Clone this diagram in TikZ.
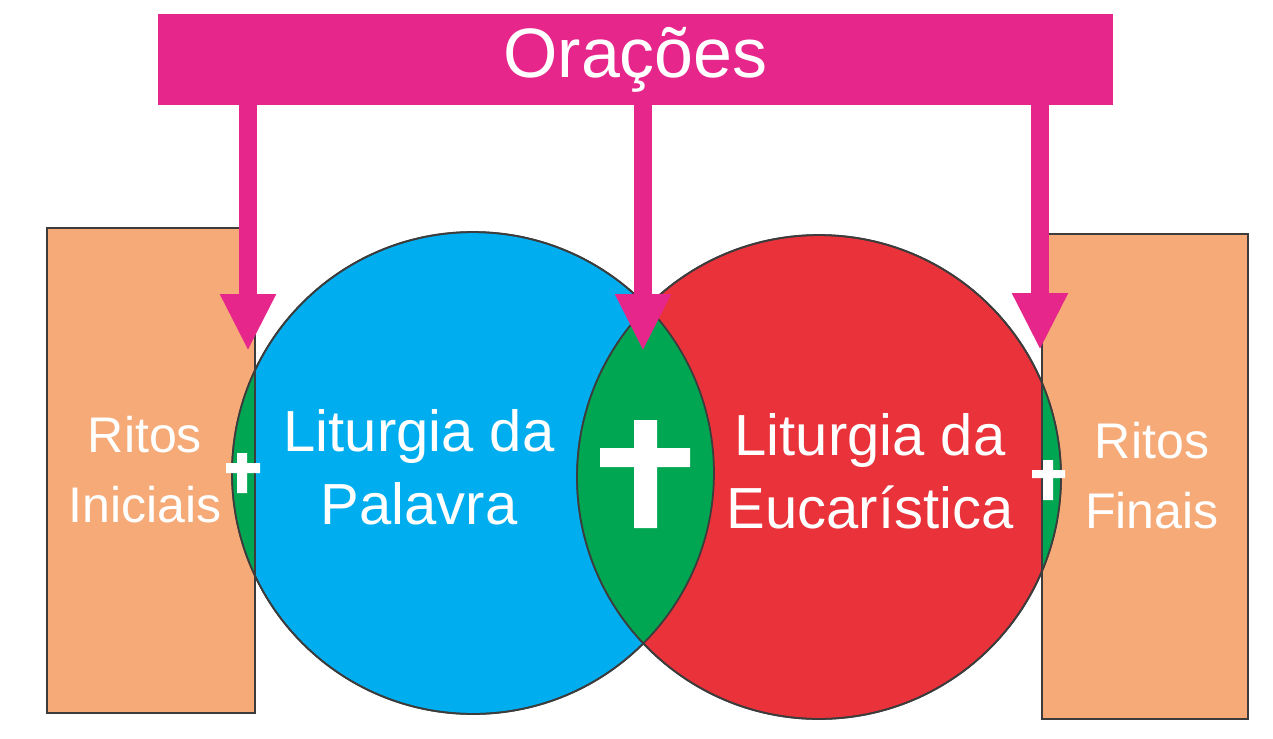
\documentclass[tikz,border=0pt]{standalone}
\usepackage{fontspec}
\setmainfont{Liberation Sans}
\usetikzlibrary{arrows.meta}
\definecolor{oramagenta}{RGB}{231,38,140}
\definecolor{palblue}{RGB}{0,174,239}
\definecolor{eucred}{RGB}{233,50,58}
\definecolor{lensgreen}{RGB}{0,166,81}
\definecolor{ritosorange}{RGB}{245,170,120}
\definecolor{contornogray}{RGB}{60,60,60}
\tikzset{
  missapic/.style={
    x=0.02cm,y=-0.02cm
    ,inner sep=0pt
    ,outer sep=0pt
  }
  ,contorno/.style={draw=contornogray,line width=1pt}
  ,ritos/.style={rectangle,contorno,fill=ritosorange
    ,minimum width=4.16cm,minimum height=9.7cm}
  ,liturgia/.style={circle,contorno}
  ,sidetext/.style={align=center,text=white
    ,font={\fontsize{28.5pt}{39.8pt}\selectfont}}
  ,midtext/.style={align=center,text=white
    ,font={\fontsize{33pt}{41.5pt}\selectfont}}
  ,barra/.style={rectangle,fill=oramagenta
    ,minimum width=19.1cm,minimum height=1.82cm
    ,text=white,font={\fontsize{39.8pt}{48pt}\selectfont}}
  ,seta/.style={draw=oramagenta,line width=0.36cm
    ,-{Triangle[width=1.04cm,length=1.14cm]}}
  ,lente/.style={fill=lensgreen}
  ,cruz/.style={fill=white}
}

\begin{document}
\begin{tikzpicture}[missapic]
  \useasboundingbox (0,0) rectangle (1273,738);
  % ritos
  \node[ritos] (ritosini) at (151,470.5) {};
  \node[ritos,minimum width=4.12cm] (ritosfin) at (1145,476.5) {};
  % liturgias
  \node[liturgia,fill=palblue,minimum size=9.64cm] (palavra) at (473,473) {};
  \node[liturgia,fill=eucred,minimum size=9.68cm] (eucaristia) at (819,477) {};
  % lentes
  \begin{scope}
    \clip (palavra.center) circle (4.82cm);
    \fill[lente] (ritosini.north west) rectangle (ritosini.south east);
    \fill[lente] (eucaristia.center) circle (4.84cm);
  \end{scope}
  \begin{scope}
    \clip (eucaristia.center) circle (4.84cm);
    \fill[lente] (ritosfin.north west) rectangle (ritosfin.south east);
  \end{scope}
  \draw[contorno] (palavra.center) circle (4.82cm)
    (eucaristia.center) circle (4.84cm);
  \draw[contorno] (ritosini.north west) rectangle (ritosini.south east)
    (ritosfin.north west) rectangle (ritosfin.south east);
  % cruzes
  \fill[cruz] (634,420) rectangle (657,528) (600,448) rectangle (690,467);
  \fill[cruz] (237,453) rectangle (247,493) (226,463) rectangle (260,473);
  \fill[cruz] (1043,460) rectangle (1053,500) (1032,470) rectangle (1065,478);
  % textos
  \node[sidetext] (txtini) at (145,470) {Ritos\\Iniciais};
  \node[sidetext] (txtfin) at (1152,476) {Ritos\\Finais};
  \node[midtext] (txtpal) at (419,467.5) {Liturgia da\\Palavra};
  \node[midtext] (txteuc) at (870,471.5) {Liturgia da\\Eucarística};
  % oracoes
  \node[barra] (oracoes) at (635.5,59.5) {Orações};
  \coordinate (tipini) at (248,351);
  \coordinate (tipmeio) at (643,351);
  \coordinate (tipfin) at (1040,350);
  \draw[seta] (oracoes.south -| tipini) -- (tipini);
  \draw[seta] (oracoes.south -| tipmeio) -- (tipmeio);
  \draw[seta] (oracoes.south -| tipfin) -- (tipfin);
\end{tikzpicture}
\end{document}
